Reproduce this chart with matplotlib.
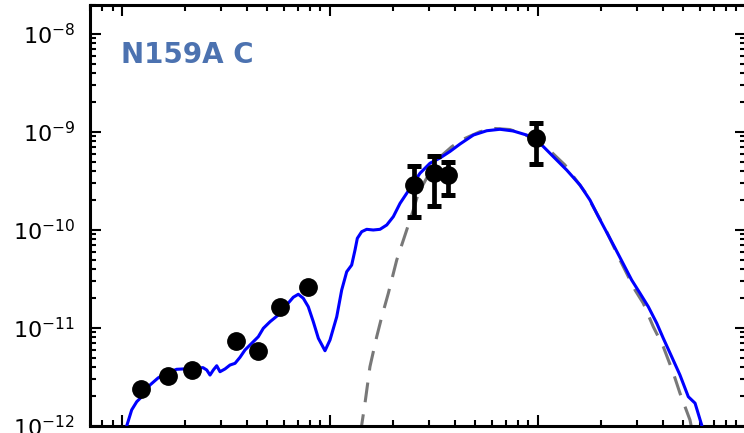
import matplotlib
matplotlib.use("Agg")
import matplotlib.pyplot as plt

# ---- photometry (wavelength in micron, nuFnu) ----
phot_wave = [1.235, 1.662, 2.159, 3.55, 4.49, 5.73, 7.87]
phot_flux = [2.39e-12, 3.24e-12, 3.73e-12, 7.36e-12, 5.86e-12, 1.65e-11, 2.60e-11]

err_wave = [25.3, 31.5, 37.1, 98.0]
err_flux = [2.88e-10, 3.79e-10, 3.64e-10, 8.69e-10]
err_hi = [4.50e-10, 5.69e-10, 4.98e-10, 1.245e-9]
err_lo = [1.36e-10, 1.76e-10, 2.28e-10, 4.71e-10]

# ---- best-fit model SED (blue) ----
model_wave = [1.02, 1.053, 1.113, 1.177, 1.244, 1.363, 1.490, 1.640, 1.832, 2.123,
              2.451, 2.554, 2.649, 2.748, 2.853, 2.959, 3.127, 3.306, 3.494, 3.691,
              3.902, 4.276, 4.521, 4.779, 5.148, 5.640, 6.19, 6.66, 7.04, 7.44,
              7.86, 8.31, 8.79, 9.46, 10.0, 10.77, 11.38, 12.03, 12.71, 13.19,
              13.53, 14.20, 15.01, 16.14, 17.39, 18.74, 20.16, 21.71, 23.38, 25.14,
              27.07, 30.24, 33.8, 37.74, 42.2, 48.9, 56.7, 65.6, 76.0, 88.2,
              102.3, 118.5, 137.4, 159.2, 177.8, 195.0, 234.6, 282.0, 309.4, 339.0,
              372.4, 400.3, 439.3, 481.5, 528.0, 568.9, 612.5, 635.0]
model_flux = [7.2e-13, 1.0e-12, 1.46e-12, 1.77e-12, 1.99e-12, 2.62e-12, 3.09e-12, 3.48e-12, 3.79e-12, 3.85e-12,
              3.94e-12, 3.73e-12, 3.31e-12, 3.73e-12, 4.12e-12, 3.58e-12, 3.82e-12, 4.19e-12, 4.36e-12, 5.02e-12,
              5.97e-12, 7.24e-12, 8.15e-12, 9.93e-12, 1.159e-11, 1.358e-11, 1.72e-11, 2.06e-11, 2.21e-11, 2.01e-11,
              1.65e-11, 1.16e-11, 7.85e-12, 5.86e-12, 7.55e-12, 1.30e-11, 2.44e-11, 3.75e-11, 4.39e-11, 6.25e-11,
              8.22e-11, 9.61e-11, 1.016e-10, 1.0e-10, 1.016e-10, 1.125e-10, 1.37e-10, 1.87e-10, 2.37e-10, 3.0e-10,
              3.79e-10, 4.80e-10, 5.43e-10, 6.33e-10, 7.55e-10, 9.31e-10, 1.03e-9, 1.066e-9, 1.024e-9, 9.31e-10,
              7.67e-10, 5.60e-10, 4.09e-10, 2.88e-10, 2.02e-10, 1.37e-10, 6.55e-11, 3.09e-11, 2.26e-11, 1.65e-11,
              1.117e-11, 7.85e-12, 5.09e-12, 3.31e-12, 1.99e-12, 1.71e-12, 1.02e-12, 7.2e-13]

# ---- modified blackbody component (grey dashed) ----
mbb_wave = [13.94, 14.20, 14.73, 15.56, 16.77, 17.73, 19.07, 20.93, 22.95, 25.14,
            26.59, 30.24, 33.8, 38.5, 43.6, 52.6, 62.1, 73.3, 88.3, 108.1,
            134.8, 168.2, 209.9, 247.9, 292.7, 320.7, 358.3, 400.3, 447.6, 481.5,
            538.0, 562.0]
mbb_flux = [7.2e-13, 1.02e-12, 1.71e-12, 4.03e-12, 8.15e-12, 1.30e-11, 2.26e-11, 4.94e-11, 8.89e-11, 1.60e-10,
            2.37e-10, 3.91e-10, 5.56e-10, 7.08e-10, 8.43e-10, 1.007e-9, 1.086e-9, 1.06e-9, 9.2e-10, 7.19e-10,
            4.60e-10, 2.44e-10, 1.047e-10, 4.94e-11, 2.44e-11, 1.79e-11, 1.03e-11, 6.44e-12, 3.45e-12, 2.16e-12,
            1.15e-12, 7.2e-13]

source_label = "N159A C"

W, H = 744, 433
fig = plt.figure(figsize=(W / 100, H / 100), dpi=100)
left_px, right_px = 89.8, 746.0
bottom_px, top_px = 426.0, 4.5
ax = fig.add_axes([left_px / W, (H - bottom_px) / H,
                   (right_px - left_px) / W, (bottom_px - top_px) / H])

ax.set_xscale("log")
ax.set_yscale("log")

ax.plot(mbb_wave, mbb_flux, color="0.47", lw=2.2, ls=(0, (6.5, 4)), zorder=2)
ax.plot(model_wave, model_flux, color="#0000ff", lw=2.2, zorder=3)
ax.plot(phot_wave, phot_flux, "o", color="black", ms=12.5, zorder=4)
lo = [f - l for f, l in zip(err_flux, err_lo)]
hi = [h - f for f, h in zip(err_flux, err_hi)]
ax.errorbar(err_wave, err_flux, yerr=[lo, hi], fmt="o", color="black", ms=12.5,
            elinewidth=3.4, capsize=4.8, capthick=3.6, zorder=4)

ax.set_xlim(0.7, 1000)
ax.set_ylim(1e-12, 2e-8)

for s in ax.spines.values():
    s.set_linewidth(2.2)
ax.tick_params(which="both", direction="in", top=True, right=True,
               labeltop=False, labelright=False, labelbottom=False)
ax.tick_params(which="major", length=8, width=1.5, labelsize=16, pad=10.5)
ax.tick_params(which="minor", length=4.3, width=1.5)

ax.text(0.047, 0.861, source_label, transform=ax.transAxes, ha="left", va="baseline",
        fontsize=20, fontweight="bold", color="#4c72b0")

fig.savefig("out.png", dpi=100)
